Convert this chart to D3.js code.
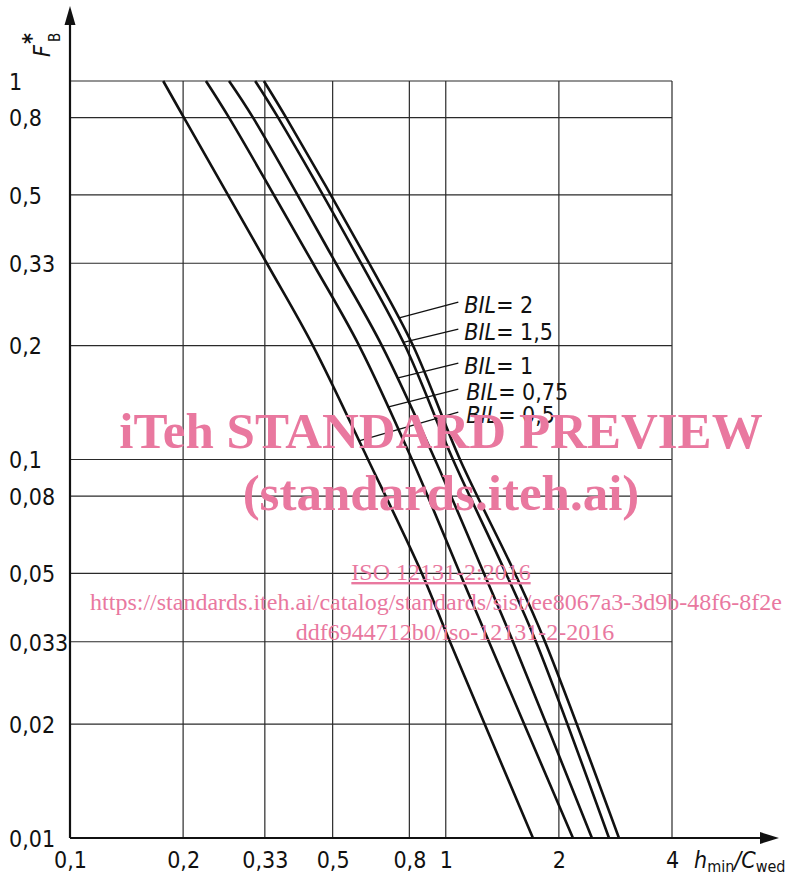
<!DOCTYPE html>
<html>
<head>
<meta charset="utf-8">
<script src="https://cdn.jsdelivr.net/npm/d3@7"></script>
<style>
    body { margin: 0; background: #fff; }
    svg { display: block; }
    .lbl { font-family: "Liberation Sans Narrow", "DejaVu Sans Condensed", sans-serif; font-size: 23px; fill: #111; }
    .wm { font-family: "Liberation Serif", "DejaVu Serif", serif; fill: #e9789f; }
</style>
</head>
<body>
<div id="chart"></div>
<script>
var fLevels = [1, 0.8, 0.33, 0.2, 0.1, 0.05, 0.033, 0.01];

// h_min / C_wed for each BIL curve, one value per level above
var bil05  = [0.177, 0.201, 0.334, 0.443, 0.621, 0.864, 1.026, 1.706];
var bil075 = [0.230, 0.265, 0.443, 0.588, 0.813, 1.091, 1.303, 2.180];
var bil1   = [0.265, 0.307, 0.510, 0.676, 0.936, 1.264, 1.510, 2.449];
var bil15  = [0.311, 0.358, 0.595, 0.779, 1.045, 1.446, 1.738, 2.719];
var bil2   = [0.328, 0.376, 0.625, 0.818, 1.091, 1.528, 1.837, 2.890];

var bilNames = ["0,5", "0,75", "1", "1,5", "2"];

// where each label sits (F of baseline) and where its leader meets the curve
var labelF  = [0.1248, 0.1436, 0.1682, 0.2068, 0.2438];
var leaderF = [0.112, 0.1376, 0.164, 0.204, 0.2365];
var labelX = 1.1;

var xTicks = [0.1, 0.2, 0.33, 0.5, 0.8, 1, 2, 4];
var xTickLabels = ["0,1", "0,2", "0,33", "0,5", "0,8", "1", "2", "4"];
var yTicks = [1, 0.8, 0.5, 0.33, 0.2, 0.1, 0.08, 0.05, 0.033, 0.02, 0.01];
var yTickLabels = ["1", "0,8", "0,5", "0,33", "0,2", "0,1", "0,08", "0,05", "0,033", "0,02", "0,01"];

var width = 788, height = 877;
var margin = {top: 81, right: 116, bottom: 39, left: 70};

var svg = d3.select("#chart").append("svg")
    .attr("width", width)
    .attr("height", height);

var x = d3.scaleLog()
    .domain([0.1, 4])
    .range([margin.left, width - margin.right]);
var y = d3.scaleLog()
    .domain([0.01, 1])
    .range([height - margin.bottom, margin.top]);

var x0 = x.range()[0], x1 = x.range()[1];
var y0 = y.range()[0], y1 = y.range()[1];

// grid
svg.append("g").selectAll("line")
    .data(xTicks.slice(1))
    .enter().append("line")
    .attr("x1", function(d){ return x(d); })
    .attr("x2", function(d){ return x(d); })
    .attr("y1", y0).attr("y2", y1)
    .style("stroke", "#2a2a2a")
    .style("stroke-width", 1.2);

svg.append("g").selectAll("line")
    .data(yTicks.slice(0, -1))
    .enter().append("line")
    .attr("x1", x0).attr("x2", x1)
    .attr("y1", function(d){ return y(d); })
    .attr("y2", function(d){ return y(d); })
    .style("stroke", "#2a2a2a")
    .style("stroke-width", 1.2);

// axes with arrows
svg.append("line")
    .attr("x1", x0).attr("x2", 768)
    .attr("y1", y0).attr("y2", y0)
    .style("stroke", "#111").style("stroke-width", 2.2);
svg.append("path")
    .attr("d", "M779," + y0 + " L760," + (y0 - 6) + " L760," + (y0 + 6) + " Z")
    .style("fill", "#111");
svg.append("line")
    .attr("x1", x0).attr("x2", x0)
    .attr("y1", y0).attr("y2", 18)
    .style("stroke", "#111").style("stroke-width", 2.2);
svg.append("path")
    .attr("d", "M" + x0 + ",6 L" + (x0 - 5.5) + ",25 L" + (x0 + 5.5) + ",25 Z")
    .style("fill", "#111");

// tick labels
var xAxis = svg.append("g")
    .attr("transform", "translate(0," + y0 + ")")
    .call(d3.axisBottom(x)
        .tickValues(xTicks)
        .tickSize(0)
        .tickPadding(0)
        .tickFormat(function(d, i){ return xTickLabels[i]; }));
xAxis.select(".domain").remove();
xAxis.selectAll("text")
    .attr("class", "lbl")
    .attr("y", 30)
    .attr("dy", 0)
    .attr("font-family", null)
    .attr("font-size", null);

var yAxis = svg.append("g")
    .call(d3.axisLeft(y)
        .tickValues(yTicks)
        .tickSize(0)
        .tickFormat(function(d, i){ return yTickLabels[i]; }));
yAxis.select(".domain").remove();
yAxis.selectAll("text")
    .attr("class", "lbl")
    .attr("x", 9)
    .attr("dy", "0.36em")
    .attr("font-family", null)
    .attr("font-size", null)
    .style("text-anchor", "start");

// axis titles
var xt = svg.append("text")
    .attr("class", "lbl")
    .attr("x", 694)
    .attr("y", 868);
xt.append("tspan").style("font-style", "italic").text("h");
xt.append("tspan").attr("dy", 4).style("font-size", "16px").text("min");
xt.append("tspan").attr("dy", -4).style("font-style", "italic").text("/C");
xt.append("tspan").attr("dy", 4).style("font-size", "16px").text("wed");

var yt = svg.append("g").attr("transform", "translate(50,57) rotate(-90)");
yt.append("text").attr("class", "lbl").style("font-style", "italic").text("F");
yt.append("text").attr("class", "lbl").attr("x", 13).attr("y", -11)
    .style("font-weight", "bold").text("*");
yt.append("text").attr("class", "lbl").attr("x", 15).attr("y", 10)
    .style("font-size", "15px").text("B");

// curves
var curves = [bil05, bil075, bil1, bil15, bil2];
var line = d3.line()
    .x(function(d){ return x(d[0]); })
    .y(function(d){ return y(d[1]); })
    .curve(d3.curveCatmullRom.alpha(0.5));

svg.append("g").selectAll("path")
    .data(curves)
    .enter().append("path")
    .attr("d", function(c){
        return line(c.map(function(v, i){ return [v, fLevels[i]]; }));
    })
    .style("fill", "none")
    .style("stroke", "#111")
    .style("stroke-width", 2.6);

// x on a curve for a given F (log interpolation)
function xAt(c, f) {
    for (var i = 0; i < fLevels.length - 1; i++) {
        if (f <= fLevels[i] && f >= fLevels[i + 1]) {
            var t = (Math.log(f) - Math.log(fLevels[i])) / (Math.log(fLevels[i + 1]) - Math.log(fLevels[i]));
            return Math.exp(Math.log(c[i]) + t * (Math.log(c[i + 1]) - Math.log(c[i])));
        }
    }
    return c[0];
}

// labels and leaders
var ann = svg.append("g");
curves.forEach(function(c, i){
    var lx = x(labelX), ly = y(labelF[i]);
    ann.append("line")
        .attr("x1", lx - 3).attr("y1", ly - 11)
        .attr("x2", x(xAt(c, leaderF[i]))).attr("y2", y(leaderF[i]))
        .style("stroke", "#111").style("stroke-width", 1.3);
    var t = ann.append("text").attr("class", "lbl")
        .attr("x", lx + (i < 2 ? 5 : 3)).attr("y", ly);
    t.append("tspan").style("font-style", "italic").text("BIL");
    t.append("tspan").text("= " + bilNames[i]);
});

// watermark
var wm = svg.append("g").attr("class", "wm").style("text-anchor", "middle");
wm.append("text").attr("x", 441).attr("y", 448)
    .style("font-size", "51px").style("font-weight", "bold")
    .text("iTeh STANDARD PREVIEW");
wm.append("text").attr("x", 441).attr("y", 510)
    .style("font-size", "51px").style("font-weight", "bold")
    .text("(standards.iteh.ai)");
wm.append("text").attr("x", 441).attr("y", 580)
    .style("font-size", "24px").style("text-decoration", "underline")
    .text("ISO 12131-2:2016");
wm.append("text").attr("x", 436).attr("y", 610)
    .style("font-size", "24px")
    .text("https://standards.iteh.ai/catalog/standards/sist/ee8067a3-3d9b-48f6-8f2e");
wm.append("text").attr("x", 455).attr("y", 640)
    .style("font-size", "24px")
    .text("ddf6944712b0/iso-12131-2-2016");
</script>
</body>
</html>
